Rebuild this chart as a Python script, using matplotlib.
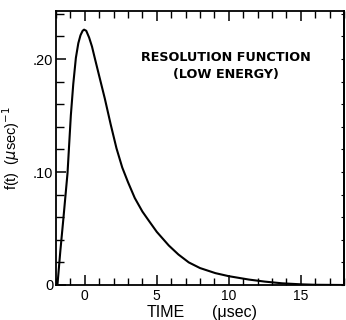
import matplotlib
matplotlib.use("Agg")
import matplotlib.pyplot as plt
from matplotlib.ticker import MultipleLocator, FixedLocator, NullFormatter

# Resolution function f(t)
time_us = [-1.9, -1.7, -1.5, -1.2, -0.97, -0.8, -0.62, -0.45, -0.3, -0.15, -0.05,
           0.1, 0.3, 0.5, 0.69, 1.0, 1.39, 1.8, 2.2, 2.6, 3.0, 3.47, 4.0, 4.44,
           5.0, 5.83, 6.5, 7.22, 8.0, 9.07, 10.0, 11.4, 12.5, 13.7, 15.0, 16.0, 18.0]
f_t = [0.0, 0.030, 0.057, 0.099, 0.150, 0.178, 0.201, 0.214, 0.221, 0.225, 0.226,
       0.225, 0.219, 0.211, 0.201, 0.185, 0.165, 0.142, 0.121, 0.104, 0.091, 0.077,
       0.065, 0.057, 0.047, 0.035, 0.027, 0.020, 0.015, 0.0105, 0.0078, 0.0048,
       0.0030, 0.0015, 0.0006, 0.0002, 0.0]

x_ticks = [0, 5, 10, 15]
x_tick_labels = ["0", "5", "10", "15"]
y_ticks = [0.0, 0.10, 0.20]
y_tick_labels = ["0", ".10", ".20"]

plt.rcParams["font.family"] = ["Liberation Sans", "DejaVu Sans"]

fig = plt.figure(figsize=(3.46, 3.20), dpi=100)
ax = fig.add_axes([56 / 346, 35 / 320, 288 / 346, 274 / 320])

ax.plot(time_us, f_t, color="black", linewidth=1.5, solid_capstyle="round")

ax.set_xlim(-2, 18)
ax.set_ylim(0, 0.2425)

ax.xaxis.set_major_locator(FixedLocator(x_ticks))
ax.set_xticklabels(x_tick_labels)
ax.xaxis.set_minor_locator(MultipleLocator(1))
ax.yaxis.set_major_locator(FixedLocator(y_ticks))
ax.set_yticklabels(y_tick_labels)
ax.yaxis.set_minor_locator(MultipleLocator(0.02))

ax.tick_params(axis="both", which="both", direction="in", top=True, right=False,
               colors="black")
ax.tick_params(axis="x", which="major", length=7, width=1.1, pad=3, labelsize=10)
ax.tick_params(axis="x", which="minor", length=5, width=1.0)
ax.tick_params(axis="y", which="major", length=7, width=1.1, pad=2, labelsize=10.5)
ax.tick_params(axis="y", which="minor", length=6, width=1.0)

# short ticks along the right edge
sec = ax.secondary_yaxis("right")
sec.yaxis.set_major_locator(MultipleLocator(0.02))
sec.yaxis.set_major_formatter(NullFormatter())
sec.tick_params(direction="in", length=2.5, width=0.8)
sec.spines["right"].set_linewidth(1.3)

for side in ["left", "bottom", "top", "right"]:
    ax.spines[side].set_linewidth(1.3)

# axis titles (shared baseline)
xlabel_base = 1 - 317 / 320
fig.text(166 / 346, xlabel_base, "TIME", ha="center", va="baseline", fontsize=11.5)
fig.text(234 / 346, xlabel_base, "(\u03bcsec)", ha="center", va="baseline", fontsize=11.5)
ax.set_ylabel(r"f(t)  ($\mu$sec)$^{-1}$", fontsize=10.5, labelpad=8)

# panel caption
ax.text(9.8, 0.201, "RESOLUTION FUNCTION", ha="center", va="center",
        fontsize=9.2, fontweight="bold", family=["DejaVu Sans"])
ax.text(9.8, 0.186, "(LOW ENERGY)", ha="center", va="center",
        fontsize=9.2, fontweight="bold", family=["DejaVu Sans"])

fig.savefig("out.png", dpi=100)
